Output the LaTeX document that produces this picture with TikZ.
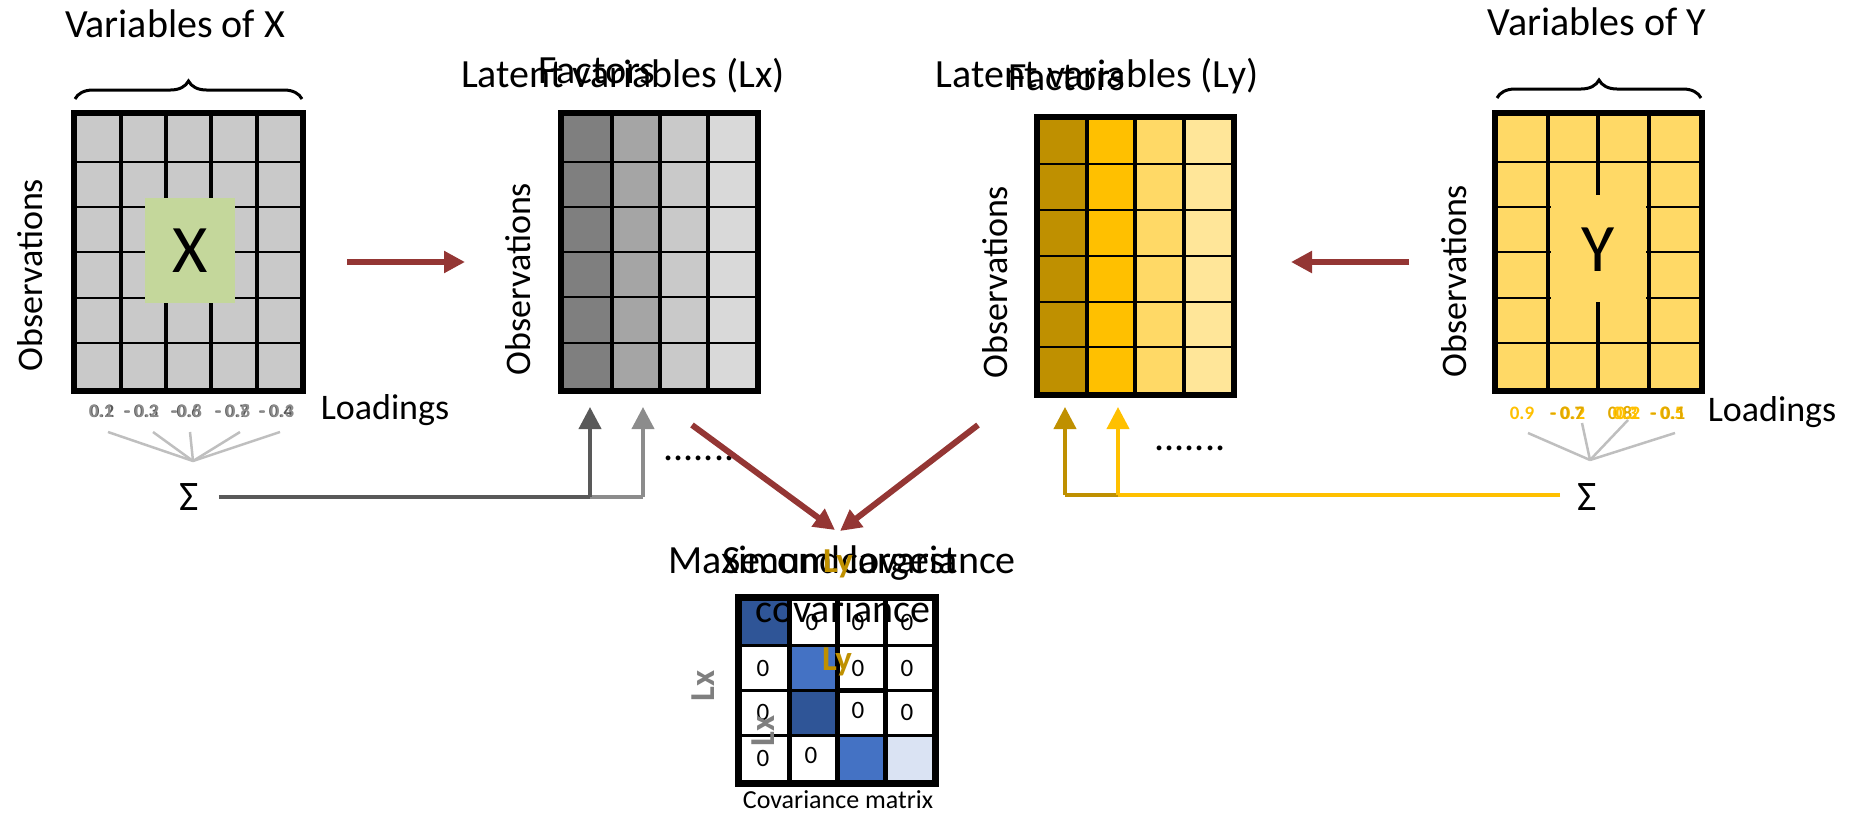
\documentclass[tikz,border=0pt]{standalone}
\usepackage{fontspec}
\setmainfont{Carlito}
\usetikzlibrary{arrows.meta,decorations.pathreplacing}
\definecolor{redarr}{HTML}{943634}
\definecolor{xgray}{HTML}{C9C9C9}
\definecolor{xgreen}{HTML}{C4D79B}
\definecolor{lxa}{HTML}{7F7F7F}
\definecolor{lxb}{HTML}{A5A5A5}
\definecolor{lxc}{HTML}{C9C9C9}
\definecolor{lxd}{HTML}{D9D9D9}
\definecolor{lya}{HTML}{BF9000}
\definecolor{lyb}{HTML}{FFC000}
\definecolor{lyc}{HTML}{FFD966}
\definecolor{lyd}{HTML}{FFE699}
\definecolor{bdark}{HTML}{2F5597}
\definecolor{bmid}{HTML}{4472C4}
\definecolor{blight}{HTML}{DAE3F3}
\definecolor{gdark}{HTML}{595959}
\definecolor{glight}{HTML}{8C8C8C}
\definecolor{fan}{HTML}{BFBFBF}
\definecolor{ldgold}{HTML}{E0A800}
\tikzset{
  bigtxt/.style={font=\fontsize{40}{44}\selectfont, inner sep=0pt},
  midtxt/.style={font=\fontsize{36}{40}\selectfont, inner sep=0pt},
  loadtxt/.style={font=\fontsize{19}{21}\selectfont\bfseries, inner sep=0pt, anchor=base},
  zerotxt/.style={font=\fontsize{25}{27}\selectfont, inner sep=0pt},
  thinl/.style={line width=2pt, black},
  thickl/.style={line width=4.5pt, black},
  frameline/.style={line width=6pt, black},
  redarrow/.style={redarr, line width=6pt, -{Triangle[length=21pt,width=21pt]}},
  uparrow/.style={line width=4pt, -{Triangle[length=22pt,width=22pt]}},
  fanline/.style={fan, line width=2.5pt},
  sigtxt/.style={font=\fontsize{42}{44}\selectfont, inner sep=0pt},
  lbold/.style={font=\fontsize{35}{37}\selectfont\bfseries, inner sep=0pt},
  bracestyle/.style={decorate, decoration={brace, amplitude=18pt}, line width=3pt},
}
\begin{document}
\begin{tikzpicture}[x=1pt,y=-1pt]
\useasboundingbox (0,0) rectangle (1854,817);
% ---------------- X matrix
\fill[xgray] (74,113) rectangle (303,391);
\foreach \y in {162,207,252,298,343} \draw[thinl] (74,\y) -- (303,\y);
\foreach \x in {121,166,211,257} \draw[thickl] (\x,113) -- (\x,391);
\draw[frameline] (74,113) rectangle (303,391);
\fill[xgreen] (145,198) rectangle (235,303);
\node[font=\fontsize{68}{70}\selectfont, inner sep=0pt] (Xlab) at (190,251) {X};
\node[inner sep=0pt, minimum width=229pt, minimum height=278pt] (X) at (188.5,252) {};
\draw[bracestyle] (75,99) -- (302,99);
\node[bigtxt, anchor=base] (varX) at (175,37) {Variables of X};
\node[midtxt, rotate=90] (obsX) at (30,275) {Observations};
\node[midtxt, anchor=base] (loadX) at (385,419) {Loadings};
% loadings X
\node[loadtxt, gdark] (lx1) at (102,417) {0.2};
\node[loadtxt, glight] (lx1b) at (101,417) {0.1};
\node[loadtxt, gdark] (lx2) at (141,417) {- 0.3};
\node[loadtxt, glight] (lx2b) at (142,417) {- 0.2};
\node[loadtxt, gdark] (lx3) at (186,417) {-0.6};
\node[loadtxt, glight] (lx3b) at (187,417) {-0.8};
\node[loadtxt, gdark] (lx4) at (232,417) {- 0.7};
\node[loadtxt, glight] (lx4b) at (233,417) {- 0.8};
\node[loadtxt, gdark] (lx5) at (276,417) {- 0.4};
\node[loadtxt, glight] (lx5b) at (277,417) {- 0.3};
\coordinate (fanX) at (193,461);
\foreach \xx in {108,153,190,240,280} \draw[fanline] (\xx,432) -- (fanX);
\node[sigtxt] (sigX) at (189,497) {Σ};
% ---------------- Lx matrix
\fill[lxa] (561,113) rectangle (612,391);
\fill[lxb] (612,113) rectangle (660,391);
\fill[lxc] (660,113) rectangle (708,391);
\fill[lxd] (708,113) rectangle (758,391);
\foreach \y in {162,207,252,297,343} \draw[thinl] (561,\y) -- (758,\y);
\foreach \x in {612,660,708} \draw[thickl] (\x,113) -- (\x,391);
\draw[frameline] (561,113) rectangle (758,391);
\node[inner sep=0pt, minimum width=197pt, minimum height=278pt] (Lx) at (659.5,252) {};
\node[bigtxt, anchor=base] (latX) at (623,87) {Latent variables (Lx)};
\node[bigtxt, anchor=base] (facX) at (597,83) {Factors};
\node[midtxt, rotate=90] (obsLx) at (518,279) {Observations};
\node[bigtxt] (dotsX) at (699,458) {.......};
% ---------------- Ly matrix
\fill[lya] (1037,117) rectangle (1087,395);
\fill[lyb] (1087,117) rectangle (1135,395);
\fill[lyc] (1135,117) rectangle (1184,395);
\fill[lyd] (1184,117) rectangle (1234,395);
\foreach \y in {164,210,256,302,347} \draw[thinl] (1037,\y) -- (1234,\y);
\foreach \x in {1087,1135,1184} \draw[thickl] (\x,117) -- (\x,395);
\draw[frameline] (1037,117) rectangle (1234,395);
\node[inner sep=0pt, minimum width=197pt, minimum height=278pt] (Ly) at (1135.5,256) {};
\node[bigtxt, anchor=base] (latY) at (1097,87) {Latent variables (Ly)};
\node[bigtxt, anchor=base] (facY) at (1067,90) {Factors};
\node[midtxt, rotate=90] (obsLy) at (995,282) {Observations};
\node[bigtxt] (dotsY) at (1190,448) {.......};
% ---------------- Y matrix
\fill[lyc] (1495,113) rectangle (1702,391);
\foreach \y in {162,207,252,298,343} \draw[thinl] (1495,\y) -- (1702,\y);
\foreach \x in {1548,1598,1649} \draw[thickl] (\x,113) -- (\x,391);
\draw[frameline] (1495,113) rectangle (1702,391);
\fill[lyc] (1551,195) rectangle (1646,302);
\node[font=\fontsize{68}{70}\selectfont, inner sep=0pt] (Ylab) at (1598,250) {Y};
\node[inner sep=0pt, minimum width=207pt, minimum height=278pt] (Y) at (1598.5,252) {};
\draw[bracestyle] (1497,98) -- (1701,98);
\node[bigtxt, anchor=base] (varY) at (1597,35) {Variables of Y};
\node[midtxt, rotate=90] (obsY) at (1454,281) {Observations};
\node[midtxt, anchor=base] (loadY) at (1772,421) {Loadings};
\node[loadtxt, lyb] (ly1) at (1522,419) {0.9};
\node[loadtxt, lyb] (ly2) at (1568,419) {- 0.2};
\node[loadtxt, ldgold] (ly2b) at (1567,419) {- 0.7};
\node[loadtxt, ldgold] (ly3b) at (1620,419) {0.8};
\node[loadtxt, lyb] (ly3) at (1625,419) {0.3};
\node[loadtxt, lyb] (ly3c) at (1628,419) {0.2};
\node[loadtxt, lyb] (ly4) at (1667,419) {- 0.5};
\node[loadtxt, ldgold] (ly4b) at (1668,419) {- 0.1};
\coordinate (fanY) at (1590,460);
\draw[fanline] (1528,433) -- (fanY);
\draw[fanline] (1582,423) -- (fanY);
\draw[fanline] (1628,420) -- (fanY);
\draw[fanline] (1675,433) -- (fanY);
\node[sigtxt] (sigY) at (1587,497) {Σ};
% ---------------- connectors
\coordinate (ax1) at (590,497);
\coordinate (ax2) at (643,497);
\coordinate (tx1) at (590,407);
\coordinate (tx2) at (643,407);
\draw[glight, line width=4pt] (ax1) -- (ax2);
\draw[gdark, line width=4pt, shorten <=20pt] (sigX.east) -- (ax1);
\draw[uparrow, gdark] (ax1) -- (tx1);
\draw[uparrow, glight] (ax2) -- (tx2);
\coordinate (ay1) at (1065,495);
\coordinate (ay2) at (1118,495);
\coordinate (ty1) at (1065,407);
\coordinate (ty2) at (1118,407);
\coordinate (sigYin) at (1560,495);
\draw[lya, line width=4pt] (ay1) -- (ay2);
\draw[lyb, line width=4pt] (sigYin) -- (ay2);
\draw[uparrow, lya] (ay1) -- (ty1);
\draw[uparrow, lyb] (ay2) -- (ty2);
% red arrows
\coordinate (rx1) at (347,262);
\coordinate (rx2) at (465,262);
\draw[redarrow] (rx1) -- (rx2);
\coordinate (ry1) at (1409,262);
\coordinate (ry2) at (1291,262);
\draw[redarrow] (ry1) -- (ry2);
\coordinate (d1) at (692,425);
\coordinate (d2) at (978,425);
\coordinate (cvtop1) at (835,530);
\coordinate (cvtop2) at (840,531);
\draw[redarrow] (d1) -- (cvtop1);
\draw[redarrow] (d2) -- (cvtop2);
% ---------------- covariance matrix
\fill[white] (738,597) rectangle (935,783);
\fill[bdark] (738,597) rectangle (789,645);
\fill[bmid] (789,645) rectangle (837,690);
\fill[bdark] (789,690) rectangle (837,735);
\fill[bmid] (837,735) rectangle (885,783);
\fill[blight] (885,735) rectangle (935,783);
\foreach \y in {645,690,735} \draw[line width=3pt] (738,\y) -- (935,\y);
\draw[line width=5pt] (837,690) -- (885,690);
\foreach \x in {789,837,885} \draw[line width=5pt] (\x,597) -- (\x,783);
\draw[line width=7pt] (738,597) rectangle (935,783);
\node[inner sep=0pt, minimum width=197pt, minimum height=186pt] (Cov) at (836.5,690) {};
\node[zerotxt] (z12) at (812,622) {0};
\node[zerotxt] (z13) at (858,622) {0};
\node[zerotxt] (z14) at (907,622) {0};
\node[zerotxt] (z21) at (763,668) {0};
\node[zerotxt] (z23) at (858,668) {0};
\node[zerotxt] (z24) at (907,668) {0};
\node[zerotxt] (z31) at (763,712) {0};
\node[zerotxt] (z33) at (858,710) {0};
\node[zerotxt] (z34) at (907,712) {0};
\node[zerotxt] (z41) at (763,758) {0};
\node[zerotxt] (z42) at (811,755) {0};
\node[bigtxt, anchor=base] (maxcov) at (842,573) {Maximum covariance};
\node[bigtxt, anchor=base] (second) at (840,573) {Second largest};
\node[bigtxt, anchor=base] (covar) at (843,622) {covariance};
\node[lbold, lya, anchor=base] (lyA) at (838,572) {Ly};
\node[lbold, lya, anchor=base] (lyB) at (837,670) {Ly};
\node[lbold, lxa, rotate=90] (lxA) at (703,686) {Lx};
\node[lbold, lxa, rotate=90] (lxB) at (763,731) {Lx};
\node[font=\fontsize{26}{28}\selectfont, inner sep=0pt, anchor=base] (covmat) at (838,808) {Covariance matrix};
\end{tikzpicture}
\end{document}
